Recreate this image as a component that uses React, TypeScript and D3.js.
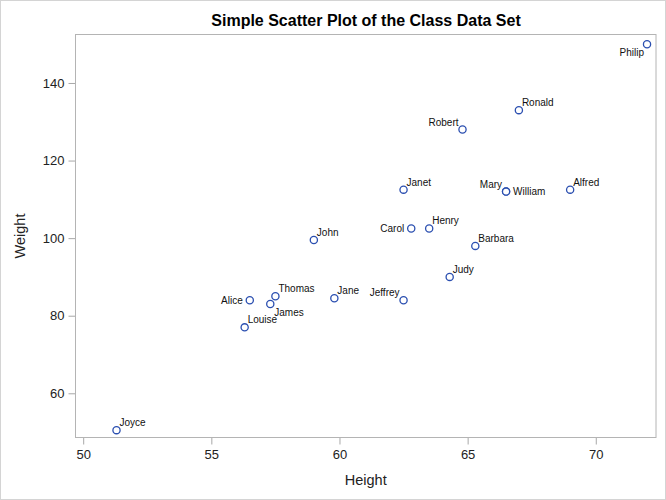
import React, { useEffect, useRef } from 'react';
import * as d3 from 'd3';

// sashelp.class
const names = ['Alfred', 'Alice', 'Barbara', 'Carol', 'Henry', 'James', 'Jane', 'Janet', 'Jeffrey', 'John',
    'Joyce', 'Judy', 'Louise', 'Mary', 'Philip', 'Robert', 'Ronald', 'Thomas', 'William'];
const heights = [69.0, 56.5, 65.3, 62.8, 63.5, 57.3, 59.8, 62.5, 62.5, 59.0,
    51.3, 64.3, 56.3, 66.5, 72.0, 64.8, 67.0, 57.5, 66.5];
const weights = [112.5, 84.0, 98.0, 102.5, 102.5, 83.0, 84.5, 112.5, 84.0, 99.5,
    50.5, 90.0, 77.0, 112.0, 150.0, 128.0, 133.0, 85.0, 112.0];
const xTicks = [50, 55, 60, 65, 70];
const yTicks = [60, 80, 100, 120, 140];

// where each label sits relative to its marker
const labelPlacement: Record<string, string> = {
    Philip: 'SW', Robert: 'NW', Mary: 'NW', William: 'E', Carol: 'W', Jeffrey: 'NW',
    Alice: 'W', James: 'SE',
};

const W = 666;
const H = 500;
const FONT = '"Liberation Sans", Arial, sans-serif';

const App: React.FC = () => {
    const ref = useRef<SVGSVGElement>(null);

    useEffect(() => {
        if (!ref.current) return;
        const svg = d3.select(ref.current);
        svg.selectAll('*').remove();

        const left = 75.5, right = 656, top = 34.5, bottom = 437.5;

        const x = d3.scaleLinear().domain([49.7, 72.35]).range([left, right]);
        const y = d3.scaleLinear().domain([48.6, 152.5]).range([bottom, top]);

        // outer border
        svg.append('rect')
            .attr('x', 0.5).attr('y', 0.5)
            .attr('width', W - 1).attr('height', H - 1)
            .attr('fill', 'white')
            .attr('stroke', '#d4d4d4');

        // title
        svg.append('text')
            .attr('x', 366).attr('y', 26)
            .attr('text-anchor', 'middle')
            .style('font-family', FONT)
            .style('font-size', '16px')
            .style('font-weight', 'bold')
            .attr('fill', '#000')
            .text('Simple Scatter Plot of the Class Data Set');

        // axes
        const xAxis = svg.append('g')
            .attr('transform', `translate(0,${bottom})`)
            .call(d3.axisBottom(x).tickValues(xTicks).tickSize(7).tickPadding(5).tickSizeOuter(0));
        const yAxis = svg.append('g')
            .attr('transform', `translate(${left},0)`)
            .call(d3.axisLeft(y).tickValues(yTicks).tickSize(7).tickPadding(4).tickSizeOuter(0));

        [xAxis, yAxis].forEach(a => {
            a.select('.domain').remove();
            a.selectAll('line').attr('stroke', '#a8a8a8');
            a.selectAll('text')
                .style('font-family', FONT)
                .style('font-size', '13px')
                .attr('fill', '#222');
        });

        // frame
        svg.append('rect')
            .attr('x', left).attr('y', top)
            .attr('width', right - left).attr('height', bottom - top)
            .attr('fill', 'none')
            .attr('stroke', '#b4b4b4');

        // axis labels
        svg.append('text')
            .attr('x', (left + right) / 2).attr('y', 485)
            .attr('text-anchor', 'middle')
            .style('font-family', FONT)
            .style('font-size', '14.5px')
            .attr('fill', '#222')
            .text('Height');
        svg.append('text')
            .attr('transform', `translate(25,${(top + bottom) / 2}) rotate(-90)`)
            .attr('text-anchor', 'middle')
            .style('font-family', FONT)
            .style('font-size', '14.5px')
            .attr('fill', '#222')
            .text('Weight');

        const data = names.map((n, i) => ({ name: n, h: heights[i], w: weights[i] }));

        // markers
        svg.append('g')
            .selectAll('circle')
            .data(data)
            .enter()
            .append('circle')
            .attr('cx', d => x(d.h))
            .attr('cy', d => y(d.w))
            .attr('r', 3.6)
            .attr('fill', 'white')
            .attr('stroke', '#2b4fb0')
            .attr('stroke-width', 1.3);

        // labels
        const offsets: Record<string, [number, number, string]> = {
            NE: [3, -4, 'start'],
            NW: [-4, -4, 'end'],
            E: [7, 3.5, 'start'],
            W: [-7, 3.5, 'end'],
            SE: [4, 12, 'start'],
            SW: [-3, 12, 'end'],
        };
        svg.append('g')
            .selectAll('text')
            .data(data)
            .enter()
            .append('text')
            .attr('x', d => x(d.h) + offsets[labelPlacement[d.name] || 'NE'][0])
            .attr('y', d => y(d.w) + offsets[labelPlacement[d.name] || 'NE'][1])
            .attr('text-anchor', d => offsets[labelPlacement[d.name] || 'NE'][2])
            .style('font-family', FONT)
            .style('font-size', '10px')
            .attr('fill', '#111')
            .text(d => d.name);
    }, []);

    return (
        <div style={{ position: 'absolute', left: 0, top: 0 }}>
            <svg ref={ref} width={W} height={H}></svg>
        </div>
    );
};

export default App;
